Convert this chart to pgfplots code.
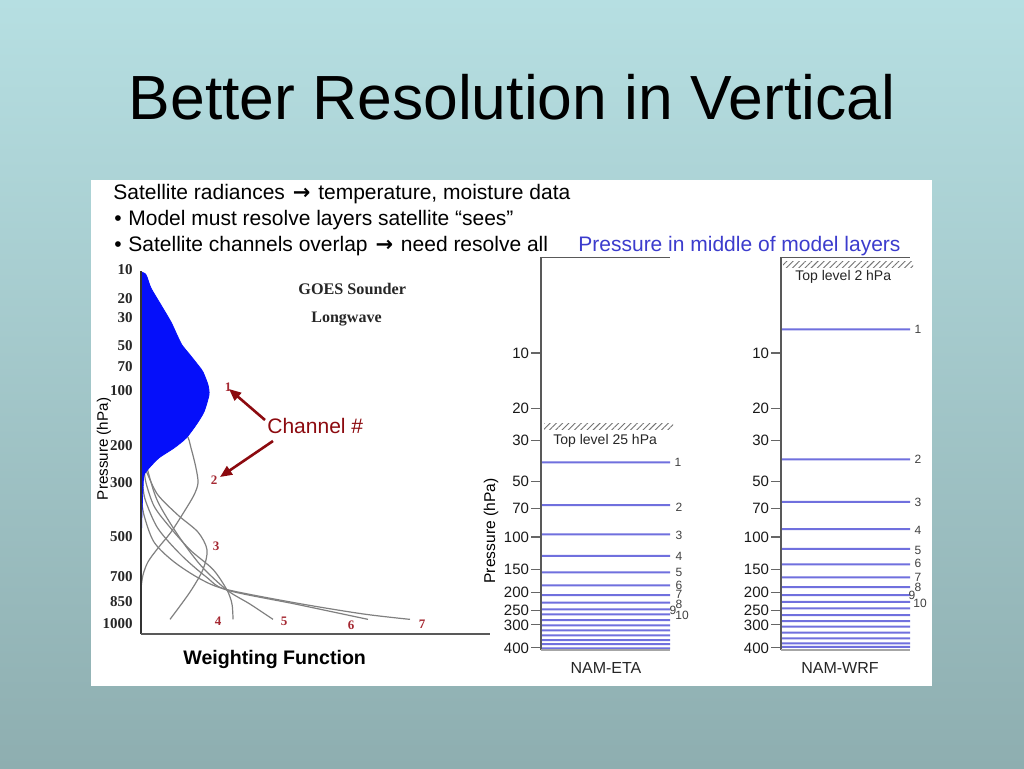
\documentclass[border=0pt]{standalone}
\usepackage{pgfplots}
\pgfplotsset{compat=1.18}
\usepackage{fontspec}
\setmainfont{Liberation Sans}
\newfontfamily\serif{Liberation Serif}
\newfontfamily\dejavu{DejaVu Sans}
\usetikzlibrary{patterns.meta,arrows.meta}
\definecolor{bgtop}{RGB}{182,223,226}
\definecolor{bgbot}{RGB}{142,174,176}
\definecolor{lvl}{RGB}{112,112,222}
\definecolor{ptxt}{RGB}{60,60,205}
\definecolor{chred}{RGB}{165,40,50}
\definecolor{arrred}{RGB}{140,10,15}
\definecolor{wfblue}{RGB}{5,15,250}
\newcommand\fs[1]{\fontsize{#1}{#1}\selectfont}
\newcommand\arr{\hspace{1pt}{\dejavu\bfseries →}\hspace{1pt}}
\begin{document}
\begin{tikzpicture}[x=0.5pt,y=-0.5pt]
\path[use as bounding box] (0,0) rectangle (1024,768);
\shade[top color=bgtop,bottom color=bgbot] (0,0) rectangle (1024,768);
\node[anchor=base, font=\fs{31.2}, inner sep=0pt] at (512,119) {Better Resolution in Vertical};
\fill[white] (91,180) rectangle (932,686);
% bullet text
\node[anchor=base west, font=\fs{10.5}, inner sep=0pt] at (113,199) {Satellite radiances \arr{} temperature, moisture data};
\node[anchor=base west, font=\fs{10.5}, inner sep=0pt] at (114,225) {•};
\node[anchor=base west, font=\fs{10.5}, inner sep=0pt] at (128,225) {Model must resolve layers satellite “sees”};
\node[anchor=base west, font=\fs{10.5}, inner sep=0pt] at (114,251) {•};
\node[anchor=base west, font=\fs{10.5}, inner sep=0pt] at (128,251) {Satellite channels overlap \arr{} need resolve all};
\node[anchor=base west, font=\fs{10.5}, inner sep=0pt, text=ptxt] at (578,251) {Pressure in middle of model layers};

\coordinate (L) at (141,634);
\coordinate (E) at (541,650);
\coordinate (W) at (781,650);

% ---------- GOES weighting functions ----------
\begin{axis}[at={(L)}, anchor=south west, scale only axis, width=174.5pt, height=182pt,
  xmin=0, xmax=349, ymin=10, ymax=1078, y dir=reverse,
  y coord trafo/.code={\pgfmathparse{exp(0.286*ln(#1))}},
  y coord inv trafo/.code={\pgfmathparse{exp(ln(#1)/0.286)}},
  axis line style={draw=none}, xtick=\empty,
  ytick={10,20,30,50,70,100,200,300,500,700,850,1000},
  yticklabels={10,20,30,50,70,100,200,300,500,700,850,1000},
  major tick length=0pt, ytick pos=left,
  yticklabel style={font=\serif\bfseries\fs{7.5}, text=black!85, inner sep=0pt, xshift=-4pt},
  clip=false]
\addplot[black!50, line width=0.6pt, smooth] coordinates {(0,100) (25,140) (45,175) (50,206) (55,257) (57,300) (53,339) (43,399) (30,480) (17,552) (7,620) (2,690) (0,766)};
\addplot[black!50, line width=0.6pt, smooth] coordinates {(0,230) (7,277) (17,339) (37,411) (57,480) (66,560) (62,660) (49,790) (29,970)};
\addplot[black!50, line width=0.6pt, smooth] coordinates {(0,190) (3,257) (5,300) (13,377) (27,450) (49,560) (72,660) (86,778) (91,866) (92,970)};
\addplot[black!50, line width=0.6pt, smooth] coordinates {(0,170) (2,210) (8,277) (17,363) (37,493) (60,640) (86,778) (109,866) (132,970)};
\addplot[black!50, line width=0.6pt, smooth] coordinates {(0,262) (2,316) (5,363) (17,465) (40,585) (65,700) (86,778) (156,868) (227,970)};
\addplot[black!50, line width=0.6pt, smooth] coordinates {(0,339) (3,411) (13,524) (33,620) (60,715) (86,775) (156,860) (222,932) (269,970)};
\addplot[draw=wfblue, fill=wfblue, smooth, tension=0.4] coordinates {(0,10.5) (4,11) (6,12) (10,15.8) (20,23.1) (30,32.6) (36,41.5) (41,49.5) (49,58.4) (57,68.6) (62,76.3) (67,92.4) (68,106) (63,133) (55,157) (45,184) (33,206) (18,230) (8,257) (3,277) (2,316) (1,400) (0.5,480) (0,540)};
\draw[black!80, line width=0.7pt] (axis cs:0,10.4) -- (axis cs:0,1078);
\draw[black!65, line width=0.8pt] (axis cs:0,1078) -- (axis cs:349,1078);
\end{axis}

% ---------- NAM-ETA ----------
\begin{axis}[at={(E)}, anchor=south west, scale only axis, width=64.5pt, height=196.35pt,
    xmin=0, xmax=129, ymode=log, ymin=3.02, ymax=411, y dir=reverse,
    axis line style={draw=none}, xtick=\empty,
    ytick={10,20,30,50,70,100,150,200,250,300,400},
    yticklabels={10,20,30,50,70,100,150,200,250,300,400},
    ytick pos=left, tick align=outside, major tick length=5pt,
    ytick style={black!60, line width=0.6pt},
    yticklabel style={font=\fs{7.5}, text=black!90, inner sep=0.8pt},
    clip=false]
\addplot[xbar, bar width=1pt, fill=lvl, draw=none] coordinates {(129,39.3) (129,67.0) (129,96.7) (129,126.4) (129,155.6) (129,183) (129,206.6) (129,227.5) (129,247.2) (129,263) (129,282.7) (129,302) (129,321.4) (129,342) (129,362.9) (129,381.5) (129,402.7)};
\fill[pattern={Lines[angle=45,distance=2.2pt,line width=0.45pt]}, pattern color=black!55] (axis cs:3,24.3) rectangle (axis cs:132,25.9);
\draw[black!65, line width=0.8pt] (axis cs:0,3.02) -- (axis cs:0,411);
\draw[black!65, line width=0.7pt] (axis cs:0,3.02) -- (axis cs:129,3.02);
\draw[black!35, line width=1.1pt] (axis cs:0,411) -- (axis cs:129,411);
\end{axis}

% ---------- NAM-WRF ----------
\begin{axis}[at={(W)}, anchor=south west, scale only axis, width=64.5pt, height=196.35pt,
    xmin=0, xmax=129, ymode=log, ymin=3.02, ymax=411, y dir=reverse,
    axis line style={draw=none}, xtick=\empty,
    ytick={10,20,30,50,70,100,150,200,250,300,400},
    yticklabels={10,20,30,50,70,100,150,200,250,300,400},
    ytick pos=left, tick align=outside, major tick length=5pt,
    ytick style={black!60, line width=0.6pt},
    yticklabel style={font=\fs{7.5}, text=black!90, inner sep=0.8pt},
    clip=false]
\addplot[xbar, bar width=1pt, fill=lvl, draw=none] coordinates {(129,7.43) (129,37.8) (129,64.3) (129,90.5) (129,115.8) (129,140.6) (129,165.5) (129,187) (129,206.6) (129,224.7) (129,244) (129,265.4) (129,286) (129,307) (129,331) (129,355) (129,378) (129,395)};
\fill[pattern={Lines[angle=45,distance=2.2pt,line width=0.45pt]}, pattern color=black!55] (axis cs:2,3.2) rectangle (axis cs:132,3.41);
\draw[black!65, line width=0.8pt] (axis cs:0,3.02) -- (axis cs:0,411);
\draw[black!65, line width=0.7pt] (axis cs:0,3.02) -- (axis cs:129,3.02);
\draw[black!35, line width=1.1pt] (axis cs:0,411) -- (axis cs:129,411);
\end{axis}

% ---------- left chart texts ----------
\node[anchor=base west, font=\serif\bfseries\fs{8.1}, inner sep=0pt, text=black!85] at (298,294) {GOES Sounder};
\node[anchor=base west, font=\serif\bfseries\fs{8}, inner sep=0pt, text=black!85] at (311,322) {Longwave};
\node[rotate=90, font=\fs{7.6}, inner sep=0pt] at (104,449) {Pressure (hPa)};
\node[anchor=base west, font=\bfseries\fs{9.8}, inner sep=0pt] at (183,664) {Weighting Function};
\foreach \t/\x/\y in {1/228/387,2/214/480,3/216/546,4/218/621,5/284/621,6/351/625,7/422/624}
  \node[font=\serif\bfseries\fs{6.5}, text=chred, inner sep=0pt] at (\x,\y) {\t};
\node[anchor=base west, font=\fs{10.5}, inner sep=0pt, text=arrred] at (267,433) {Channel \#};
\draw[arrred, line width=1.3pt, -{Triangle[length=6pt,width=5pt]}] (265,420) -- (229,389);
\draw[arrred, line width=1.3pt, -{Triangle[length=6pt,width=5pt]}] (273,441) -- (220,477);

% ---------- level charts texts ----------
\node[rotate=90, font=\fs{7.8}, inner sep=0pt] at (491,531) {Pressure (hPa)};
\node[anchor=base west, font=\fs{7}, inner sep=0pt, text=black!85] at (553,444) {Top level 25 hPa};
\node[anchor=base west, font=\fs{7}, inner sep=0pt, text=black!85] at (795,280) {Top level 2 hPa};
\node[anchor=base, font=\fs{8}, inner sep=0pt, text=black!85] at (606,673) {NAM-ETA};
\node[anchor=base, font=\fs{8}, inner sep=0pt, text=black!85] at (840,673) {NAM-WRF};
\foreach \t/\x/\y in {1/678/462,2/679/507,3/679/535,4/679/556,5/679/572,6/679/585,7/679/594,8/679/604,9/673/610,10/682/615}
  \node[font=\fs{6}, text=black!75, inner sep=0pt] at (\x,\y) {\t};
\foreach \t/\x/\y in {1/918/329,2/918/459,3/918/502,4/918/530,5/918/550,6/918/563,7/918/577,8/918/587,9/912/595,10/920/603}
  \node[font=\fs{6}, text=black!75, inner sep=0pt] at (\x,\y) {\t};
\end{tikzpicture}
\end{document}
